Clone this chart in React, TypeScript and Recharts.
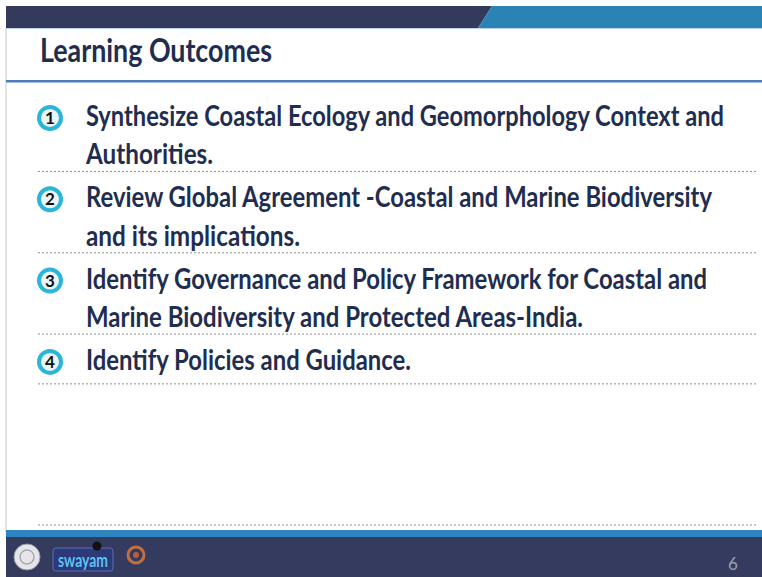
import { ScatterChart, Scatter, XAxis, YAxis, Customized } from 'recharts';

// slide content
const outcomeNumbers = [1, 2, 3, 4];
const outcomeLines = [
  ['Synthesize Coastal Ecology and Geomorphology Context and', 'Authorities.'],
  ['Review Global Agreement -Coastal and Marine Biodiversity', 'and its implications.'],
  ['Identify Governance and Policy Framework for Coastal and', 'Marine Biodiversity and Protected Areas-India.'],
  ['Identify Policies and Guidance.'],
];
const slideTitle = 'Learning Outcomes';
const pageNumber = '6';

// layout only: rendered widths of each text line (the video frame is squeezed)
const lineWidths = [
  [638, 127],
  [626, 214],
  [621, 497],
  [325],
];

const W = 762;
const H = 577;
const FONT = 'Lato, "Open Sans", sans-serif';

const points = outcomeNumbers.map((n, i) => ({ x: 50, y: n, idx: i }));

const Badge = (props: any) => {
  const { cx, cy, payload } = props;
  const i = payload.idx;
  const lines = outcomeLines[i];
  const widths = lineWidths[i];
  const lastBase = cy + 8 + (lines.length - 1) * 38.5;
  const sepY = lines.length > 1 ? lastBase + 7 : lastBase + 14;
  return (
    <g>
      <circle cx={cx} cy={cy} r={11} fill="#eaf5f9" stroke="#2bb5d9" strokeWidth={4} />
      <text x={cx} y={cy + 6} textAnchor="middle" fontFamily={FONT} fontWeight={700} fontSize={17} fill="#111">
        {outcomeNumbers[i]}
      </text>
      {lines.map((t, k) => (
        <text
          key={k}
          x={0}
          y={0}
          transform={`translate(86, ${cy + 8 + k * 38.5}) scale(1, 1.2)`}
          fontFamily={FONT}
          fontWeight={700}
          fontSize={24}
          fill="#1f2e50"
          textLength={widths[k]}
          lengthAdjust="spacingAndGlyphs"
        >
          {t}
        </text>
      ))}
      <line x1={38} x2={758} y1={sepY} y2={sepY} stroke="#8a8f99" strokeWidth={1} strokeDasharray="2 2" />
    </g>
  );
};

const Decor = () => (
  <g>
    {/* top band */}
    <polygon points="6,6 492,6 478,28 6,28" fill="#333a5c" />
    <polygon points="492,6 762,6 762,28 478,28" fill="#2b83b5" />
    <line x1={6} x2={762} y1={28.5} y2={28.5} stroke="#b9d3e8" strokeWidth={1} />
    {/* left border */}
    <line x1={6} x2={6} y1={28} y2={532} stroke="#c9c9cf" strokeWidth={1} />
    {/* title */}
    <text x={40} y={62} fontFamily={FONT} fontWeight={700} fontSize={32} fill="#1f2d50" textLength={232} lengthAdjust="spacingAndGlyphs">
      {slideTitle}
    </text>
    <rect x={6} y={80} width={756} height={2.5} fill="#4d7dbf" />
    {/* bottom dotted line */}
    <line x1={38} x2={758} y1={525} y2={525} stroke="#8a8f99" strokeWidth={1} strokeDasharray="2 2" />
    {/* footer */}
    <rect x={6} y={530} width={756} height={7} fill="#2d84bf" />
    <rect x={6} y={537} width={756} height={40} fill="#353b5e" />
    {/* logos */}
    <circle cx={27} cy={557} r={13} fill="#e6e6ea" stroke="#9a9aa4" strokeWidth={1} />
    <circle cx={27} cy={557} r={7} fill="none" stroke="#a8a8b0" strokeWidth={1.5} />
    <rect x={53} y={548} width={60} height={23} rx={3} fill="#2c3a7a" stroke="#5a6cb0" strokeWidth={1} />
    <text x={83} y={567} textAnchor="middle" fontFamily={FONT} fontWeight={700} fontSize={19} fill="#5cc1ef" textLength={50} lengthAdjust="spacingAndGlyphs">
      swayam
    </text>
    <circle cx={97} cy={546} r={4.5} fill="#111" />
    <circle cx={136} cy={555} r={8} fill="none" stroke="#c2703e" strokeWidth={3} />
    <circle cx={136} cy={555} r={3} fill="#b8603a" />
    <text x={728} y={570} fontFamily={FONT} fontSize={17} fill="#9aa0b8">
      {pageNumber}
    </text>
  </g>
);

export default function App() {
  return (
    <div style={{ position: 'absolute', left: 0, top: 0, width: W, height: H, background: '#fff' }}>
      <ScatterChart width={W} height={H} margin={{ top: 0, right: 0, bottom: 0, left: 0 }}>
        <XAxis type="number" dataKey="x" domain={[0, W]} hide />
        <YAxis type="number" dataKey="y" domain={[-0.451, 6.646]} reversed hide />
        <Customized component={<Decor />} />
        <Scatter data={points} shape={<Badge />} isAnimationActive={false} />
      </ScatterChart>
    </div>
  );
}
